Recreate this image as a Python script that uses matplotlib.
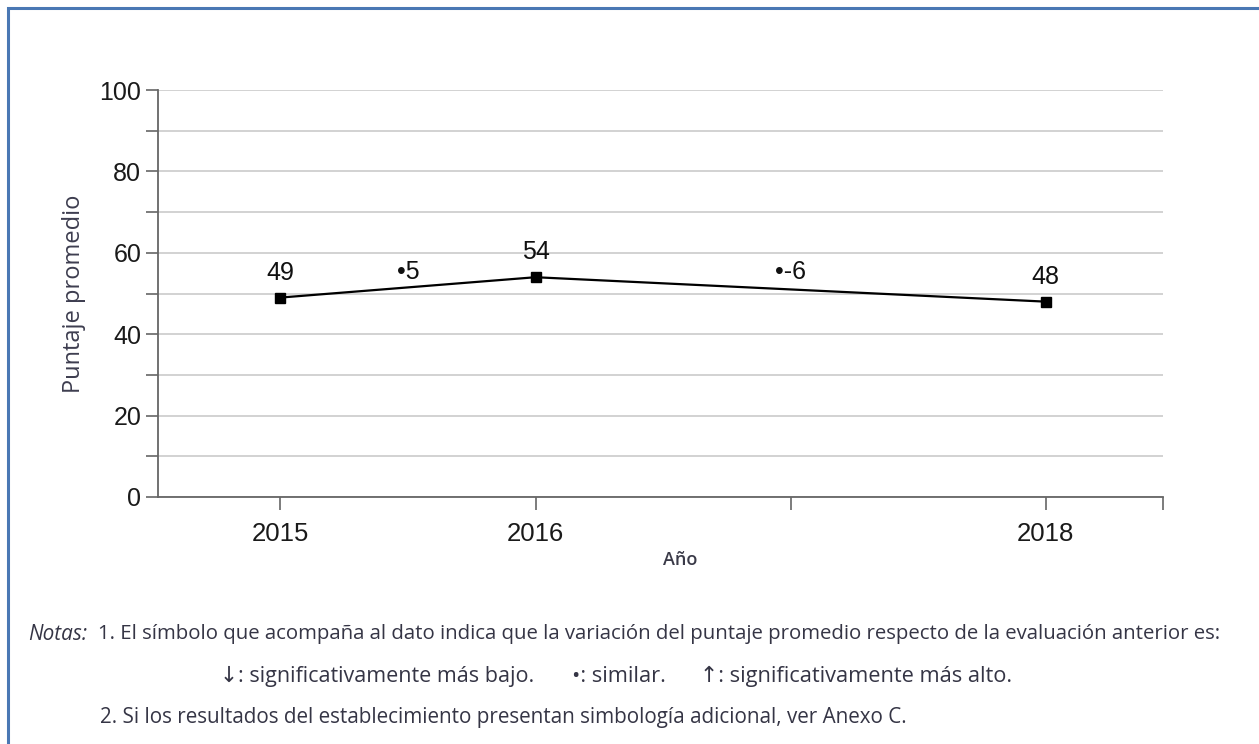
import matplotlib
matplotlib.use("Agg")
import matplotlib.pyplot as plt
from matplotlib.patches import Rectangle
from matplotlib.ticker import MultipleLocator

years = [2015, 2016, 2018]
scores = [49, 54, 48]
var_pos = [2015.5, 2017.0]
var_text = ["\u20225", "\u2022-6"]
var_y = [55.3, 55.3]

W, H = 1259, 744
fig = plt.figure(figsize=(W / 100, H / 100), dpi=100)
ax = fig.add_axes([158/W, 1-497/H, (1163-158)/W, (497-90)/H])

ax.plot(years, scores, color="black", lw=1.6, marker="s", markersize=7, zorder=3)
for x, y in zip(years, scores):
    ax.text(x, y + 3.2, str(y), ha="center", va="bottom", fontsize=18,
            family="Liberation Sans", color="#111111")
for x, y, t in zip(var_pos, var_y, var_text):
    ax.text(x, y, t, ha="center", va="center", fontsize=18,
            family="Liberation Sans", color="#111111")

ax.set_xlim(2014.52, 2018.46)
ax.set_ylim(0, 100)
ax.set_xticks([2015, 2016, 2017, 2018, 2018.46])
ax.set_xticklabels(["2015", "2016", "", "2018", ""])
ax.yaxis.set_major_locator(MultipleLocator(20))
ax.yaxis.set_minor_locator(MultipleLocator(10))
ax.grid(axis="y", which="both", color="#cfcfcf", lw=1.3)
ax.set_axisbelow(True)
for s in ["top", "right"]:
    ax.spines[s].set_visible(False)
for s in ["left", "bottom"]:
    ax.spines[s].set_color("#666666")
    ax.spines[s].set_linewidth(1.3)
ax.tick_params(axis="both", which="both", color="#666666", width=1.2, length=9)
ax.tick_params(axis="y", labelsize=18, pad=3)
ax.tick_params(axis="x", labelsize=18.5, pad=9)
for lab in ax.get_xticklabels() + ax.get_yticklabels():
    lab.set_family("Liberation Sans")
    lab.set_color("#1a1a1a")

ax.set_ylabel("Puntaje promedio", fontsize=17, family="Open Sans",
              color="#3d3d4f", labelpad=10)
ax.set_xlabel("A\u00f1o", fontsize=13, family="Open Sans", weight="semibold",
              color="#3a3a48")
ax.xaxis.set_label_coords((680 - 158) / 1005, (497 - 560) / 407)
ax.xaxis.label.set_va("center")

note_font = ["Open Sans", "DejaVu Sans"]
col = "#353545"
fig.canvas.draw()
rend = fig.canvas.get_renderer()


def note(x0, x1, yc, s, **kw):
    t = fig.text(x0 / W, 1 - yc / H, s, fontsize=14, family=note_font,
                 color=col, va="center", **kw)
    if x1 is not None:
        w = t.get_window_extent(rend).width
        t.set_fontsize(14 * (x1 - x0) / w)
    return t


note(28, 87, 634, "Notas:", style="italic")
note(98, 1232, 634,
     "1. El s\u00edmbolo que acompa\u00f1a al dato indica que la variaci\u00f3n del puntaje "
     "promedio respecto de la evaluaci\u00f3n anterior es:")
note(220, 535, 676, "\u2193: significativamente m\u00e1s bajo.")
note(572, 666, 676, "\u2022: similar.")
note(700, 1012, 676, "\u2191: significativamente m\u00e1s alto.")
note(100, 913, 717,
     "2. Si los resultados del establecimiento presentan simbolog\u00eda adicional, ver Anexo C.")

fig.patches.append(Rectangle((8/W, -0.05), 1.1, 1-8/H+0.05, transform=fig.transFigure,
                             fill=False, edgecolor="#4a78b4", lw=2.2))

fig.savefig("out.png", dpi=100)
